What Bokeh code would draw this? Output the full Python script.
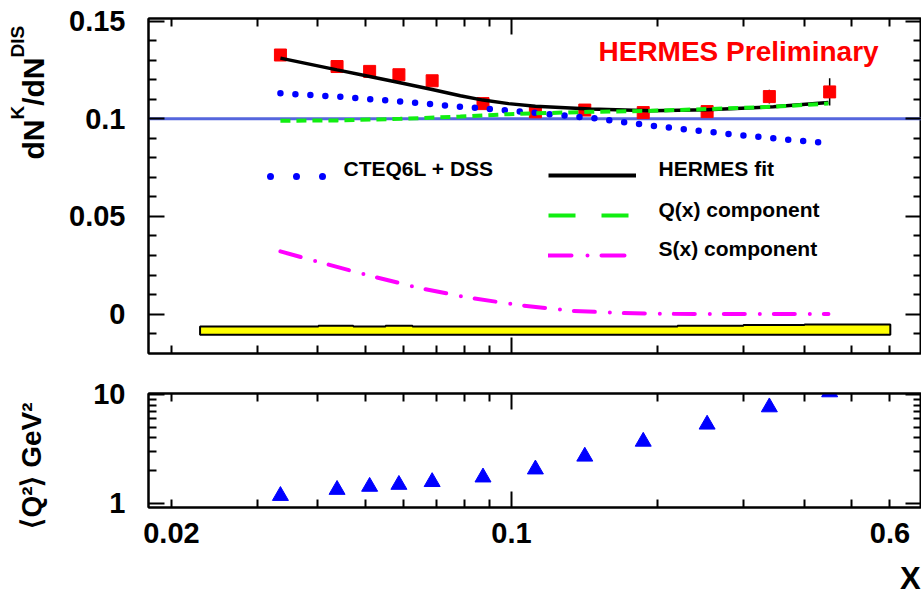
import math
from bokeh.plotting import figure
from bokeh.models import (LinearAxis, LogAxis, FixedTicker, Span, Label, Legend,
                          LegendItem, Range1d)
from bokeh.layouts import column, row
from bokeh.embed import file_html
from bokeh.resources import INLINE

# ---------------- data ----------------
x_pts = [0.0335, 0.0438, 0.0511, 0.0587, 0.0687, 0.0874, 0.112, 0.1415, 0.1866, 0.2525, 0.339, 0.451]
ratio_pts = [0.1327, 0.1268, 0.1243, 0.1226, 0.1195, 0.1078, 0.1036, 0.1045, 0.1032, 0.1037, 0.1114, 0.1138]
ratio_err = [0.002, 0.002, 0.002, 0.002, 0.002, 0.002, 0.002, 0.002, 0.002, 0.0025, 0.0035, 0.007]
q2_pts = [1.17, 1.33, 1.42, 1.48, 1.57, 1.73, 2.05, 2.69, 3.69, 5.30, 7.64, 10.5]

fit_x = [0.0335, 0.0438, 0.0511, 0.0587, 0.0687, 0.0785, 0.0874, 0.0986, 0.112, 0.1453, 0.1931, 0.2525, 0.3457, 0.4484]
fit_y = [0.1311, 0.1251, 0.1217, 0.1186, 0.1150, 0.1118, 0.1096, 0.1078, 0.1064, 0.1050, 0.1042, 0.1046, 0.1062, 0.1084]

q_x = [0.0335, 0.0438, 0.0591, 0.0785, 0.0986, 0.1453, 0.1931, 0.2525, 0.3457, 0.4484]
q_y = [0.0990, 0.0992, 0.1000, 0.1012, 0.1024, 0.1036, 0.1041, 0.1050, 0.1062, 0.1078]

s_x = [0.0335, 0.0400, 0.0505, 0.0640, 0.0811, 0.1035, 0.1322, 0.1689, 0.2157, 0.4484]
s_y = [0.0321, 0.0268, 0.0200, 0.0136, 0.0085, 0.0046, 0.0017, 0.0005, 0.0001, 0.0]

cteq_x = [0.0335, 0.0438, 0.0611, 0.0760, 0.0986, 0.1466, 0.1959, 0.2446, 0.3052, 0.3800, 0.449]
cteq_y = [0.1131, 0.1114, 0.1086, 0.1065, 0.1043, 0.1004, 0.0964, 0.0938, 0.0913, 0.0891, 0.0876]

syst_edges = [0.0229, 0.0401, 0.0473, 0.0551, 0.0626, 0.2195, 0.2999, 0.4004, 0.601]
syst_top = [-0.0064, -0.0060, -0.0064, -0.0060, -0.0064, -0.0060, -0.0056, -0.0053]
syst_base = -0.0106

ref_level = 0.1

legend_names = ["CTEQ6L + DSS", "HERMES fit", "Q(x) component", "S(x) component"]

x_major = [0.1]
x_minor = [0.02, 0.03, 0.04, 0.05, 0.06, 0.07, 0.08, 0.09, 0.2, 0.3, 0.4, 0.5, 0.6]
x_labelled = [0.02, 0.1, 0.6]
x_labels = ["0.02", "0.1", "0.6"]
x_title_at = [0.666]
x_title = ["X"]

y1_major = [0.0, 0.05, 0.1, 0.15]
y1_minor = [-0.01, 0.01, 0.02, 0.03, 0.04, 0.06, 0.07, 0.08, 0.09, 0.11, 0.12, 0.13, 0.14]
y1_labels = ["0", "0.05", "0.1", "0.15"]

y2_major = [1, 10]
y2_minor = [2, 3, 4, 5, 6, 7, 8, 9]
y2_labels = ["1", "10"]

FONT = "Liberation Sans"


def style_axis(ax, ticks, major_len=16, minor_len=8, labels=None, size="29px", standoff=23):
    ax.major_tick_in = major_len
    ax.major_tick_out = 0
    ax.minor_tick_in = minor_len
    ax.minor_tick_out = 0
    ax.major_tick_line_width = 2
    ax.minor_tick_line_width = 2
    ax.axis_line_width = 2
    ax.major_tick_line_color = "black"
    ax.minor_tick_line_color = "black"
    if labels is None:
        ax.major_label_overrides = {v: "" for v in ticks}
        ax.major_label_text_font_size = "1px"
        ax.major_label_standoff = 0
    else:
        ax.major_label_overrides = labels
        ax.major_label_text_font = FONT
        ax.major_label_text_font_size = size
        ax.major_label_text_font_style = "bold"
        ax.major_label_text_color = "black"
        ax.major_label_standoff = standoff
    return ax


def label_only(ax):
    ax.axis_line_color = None
    ax.major_tick_line_color = None
    ax.minor_tick_line_color = None
    return ax


def text_label(x, y, text, size, color="black", angle=0.0, align="left", units="screen"):
    return Label(x=x, y=y, x_units=units, y_units=units, text=text, angle=angle,
                 text_font=FONT, text_font_size=f"{size}px", text_font_style="bold",
                 text_baseline="alphabetic", text_align=align, text_color=color)


# ---------------- left gutter for the rotated y titles ----------------
gut = figure(width=60, height=599, x_range=Range1d(0, 60), y_range=Range1d(599, 0),
             x_axis_location=None, y_axis_location=None, toolbar_location=None,
             output_backend="svg", min_border=0, outline_line_color=None,
             background_fill_color="white", border_fill_color="white")
gut.grid.visible = False

title_parts = [("dN", 30, 33), ("K", 19, 17), ("/dN", 30, 33), ("DIS", 19, 17)]
adv = {"d": 0.611, "N": 0.722, "K": 0.722, "/": 0.278, "D": 0.722, "I": 0.278, "S": 0.667}
ypos = 159
for txt, fs, xb in title_parts:
    gut.add_layout(text_label(xb, ypos, txt, fs, angle=math.pi / 2, units="data"))
    ypos -= sum(adv[c] for c in txt) * fs

gut.add_layout(text_label(31, 465, "⟨Q²⟩ GeV²", 28, angle=math.pi / 2, align="center", units="data"))

# ---------------- top panel ----------------
p1 = figure(width=861, height=373, x_axis_type="log",
            x_range=Range1d(0.01794, 0.6966), y_range=Range1d(-0.0202, 0.1514),
            x_axis_location=None, y_axis_location=None,
            toolbar_location=None, output_backend="svg",
            min_border_left=88, min_border_right=0, min_border_top=18, min_border_bottom=20,
            outline_line_color="black", outline_line_width=2,
            background_fill_color="white", border_fill_color="white")
p1.grid.visible = False

y1_lab = {v: t for v, t in zip(y1_major, y1_labels)}
p1.add_layout(style_axis(LinearAxis(ticker=FixedTicker(ticks=y1_major, minor_ticks=y1_minor)), y1_major, labels=y1_lab), "left")
rax1 = style_axis(LinearAxis(ticker=FixedTicker(ticks=y1_major, minor_ticks=y1_minor)), y1_major)
rax1.axis_line_color = None
p1.add_layout(rax1, "right")
p1.add_layout(style_axis(LogAxis(ticker=FixedTicker(ticks=x_major, minor_ticks=x_minor)), x_major), "below")
p1.add_layout(style_axis(LogAxis(ticker=FixedTicker(ticks=x_major, minor_ticks=x_minor)), x_major), "above")

# systematic band (step outline)
band_x = [syst_edges[0]]
band_y = [syst_base]
for i, t in enumerate(syst_top):
    band_x += [syst_edges[i], syst_edges[i + 1]]
    band_y += [t, t]
band_x += [syst_edges[-1]]
band_y += [syst_base]
p1.patch(band_x, band_y, fill_color="#ffff00", line_color="black", line_width=2)

ref = Span(location=ref_level, dimension="width", line_color="#5566dd", line_width=3, level="underlay")
p1.add_layout(ref)

p1.segment(x0=x_pts, y0=[v - e for v, e in zip(ratio_pts, ratio_err)],
           x1=x_pts, y1=[v + e for v, e in zip(ratio_pts, ratio_err)],
           line_color="black", line_width=1.5)
p1.scatter(x_pts, ratio_pts, marker="square", size=12, fill_color="#ff0000", line_color="#ff0000")

p1.line(cteq_x, cteq_y, line_color="#0000ff", line_width=6.5, line_dash="0 15", line_cap="round")
p1.line(s_x, s_y, line_color="#ff00ff", line_width=4, line_dash="21 15 0 14", line_cap="round")
p1.line(fit_x, fit_y, line_color="black", line_width=3.5)
p1.line(q_x, q_y, line_color="#11ee11", line_width=4, line_dash="10 6")

# legend keys (renderers used only for the key, lying outside the plotted range)
lg_cteq = p1.line([0.001, 0.002], [1, 1], line_color="#0000ff", line_width=7, line_dash="0 26",
                  line_dash_offset=22, line_cap="round")
lg_fit = p1.line([0.001, 0.002], [1, 1], line_color="black", line_width=4)
lg_q = p1.line([0.001, 0.002], [1, 1], line_color="#11ee11", line_width=4, line_dash="27 26")
lg_s = p1.line([0.001, 0.002], [1, 1], line_color="#ff00ff", line_width=4, line_dash="23 16 0 14", line_cap="round")

leg_common = dict(glyph_height=36, label_height=24, padding=0, margin=0,
                  border_line_color=None, background_fill_alpha=0,
                  label_text_font=FONT, label_text_font_size="21px", label_text_color="black",
                  label_text_font_style="bold")
leg_a = Legend(items=[LegendItem(label=" ", renderers=[lg_cteq])],
               location=(118, 159), glyph_width=60, label_standoff=14, spacing=0, **leg_common)
leg_b = Legend(items=[LegendItem(label=" ", renderers=[lg_fit]),
                      LegendItem(label=" ", renderers=[lg_q]),
                      LegendItem(label=" ", renderers=[lg_s])],
               location=(400, 80), glyph_width=88, label_standoff=22, spacing=4, **leg_common)
p1.add_layout(leg_a)
p1.add_layout(leg_b)

# legend texts (kept beside the keys, slightly raised as in the original)
p1.add_layout(text_label(195, 185.5, legend_names[0], 21))
p1.add_layout(text_label(510, 185, legend_names[1], 21))
p1.add_layout(text_label(510, 144.5, legend_names[2], 21))
p1.add_layout(text_label(510, 105, legend_names[3], 21))

p1.add_layout(text_label(450, 302, "HERMES Preliminary", 28, color="#ff0000"))

# ---------------- bottom panel ----------------
p2 = figure(width=861, height=226, x_axis_type="log", y_axis_type="log",
            x_range=p1.x_range, y_range=Range1d(0.913, 10.21),
            x_axis_location=None, y_axis_location=None,
            toolbar_location=None, output_backend="svg",
            min_border_left=88, min_border_right=0, min_border_top=20, min_border_bottom=92,
            outline_line_color="black", outline_line_width=2,
            background_fill_color="white", border_fill_color="white")
p2.grid.visible = False

y2_lab = {v: t for v, t in zip(y2_major, y2_labels)}
p2.add_layout(style_axis(LogAxis(ticker=FixedTicker(ticks=y2_major, minor_ticks=y2_minor)), y2_major, labels=y2_lab), "left")
rax2 = style_axis(LogAxis(ticker=FixedTicker(ticks=y2_major, minor_ticks=y2_minor)), y2_major)
rax2.axis_line_color = None
p2.add_layout(rax2, "right")
p2.add_layout(style_axis(LogAxis(ticker=FixedTicker(ticks=x_major, minor_ticks=x_minor)), x_major), "above")
p2.add_layout(style_axis(LogAxis(ticker=FixedTicker(ticks=x_major, minor_ticks=x_minor)), x_major), "below")
x_lab_axis = label_only(style_axis(LogAxis(ticker=FixedTicker(ticks=x_labelled, minor_ticks=[])), x_labelled,
                                   labels={v: t for v, t in zip(x_labelled, x_labels)}, standoff=15))
p2.add_layout(x_lab_axis, "below")
x_title_axis = label_only(style_axis(LogAxis(ticker=FixedTicker(ticks=x_title_at, minor_ticks=[])), x_title_at,
                                     labels={v: t for v, t in zip(x_title_at, x_title)}, size="31px", standoff=15))
p2.add_layout(x_title_axis, "below")

p2.scatter(x_pts, q2_pts, marker="triangle", size=16, fill_color="#0000ff", line_color="#0000ff")

layout = row(gut, column(p1, p2, spacing=0), spacing=0)
open("out.html", "w").write(file_html(layout, INLINE))
